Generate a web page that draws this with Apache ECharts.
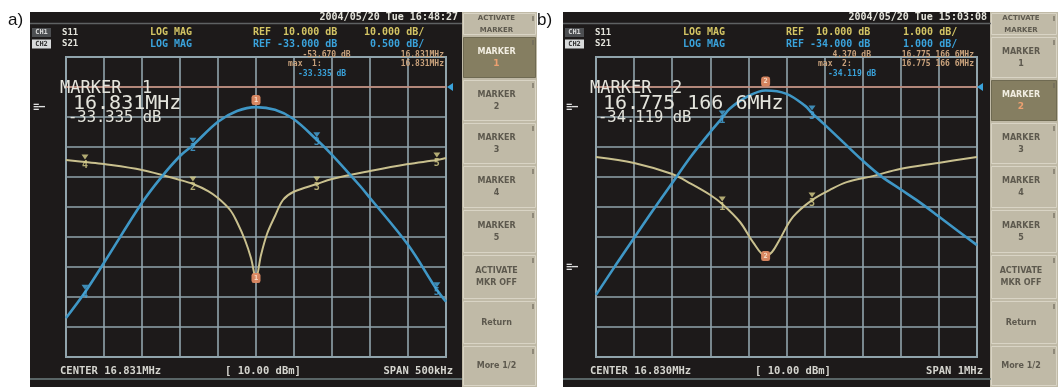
<!DOCTYPE html>
<html>
<head>
<meta charset="utf-8">
<script src="https://cdn.jsdelivr.net/npm/echarts@6.0.0/dist/echarts.min.js"></script>
<style>
  html, body { margin: 0; padding: 0; background: #ffffff; }
  #chart { width: 1058px; height: 387px; }
</style>
</head>
<body>
<div id="chart"></div>
<script>
// ---------- Panel a: S11 / S21, centre 16.831 MHz, span 500 kHz ----------
const centerA = 16.831;           // MHz
const spanA = 0.5;                // MHz
const refS21A = -33.0, divS21A = 0.5;   // dB, dB/div
const refS11A = 10.0,  divS11A = 10.0;

const s21FreqA = [16.581, 16.606, 16.631, 16.681, 16.706, 16.731, 16.748, 16.781, 16.806, 16.831,
                  16.856, 16.880, 16.911, 16.931, 16.968, 16.981, 17.031, 17.069, 17.081];
const s21A     = [-36.85, -36.42, -35.93, -34.93, -34.51, -34.15, -33.97, -33.58, -33.40, -33.335,
                  -33.38, -33.53, -33.88, -34.13, -34.65, -34.85, -35.63, -36.38, -36.58];

const s11FreqA = [16.581, 16.606, 16.631, 16.681, 16.731, 16.748, 16.768, 16.781, 16.797, 16.806,
                  16.8165, 16.8244, 16.831, 16.8376, 16.8455, 16.856, 16.8665, 16.880, 16.911, 16.931,
                  16.981, 17.031, 17.069, 17.081];
const s11A     = [-14.33, -15.0, -15.67, -17.67, -21.0, -22.33, -24.67, -27.0, -31.0, -35.0,
                  -41.0, -47.0, -53.67, -46.0, -39.0, -33.0, -27.67, -25.0, -22.33, -20.67,
                  -18.0, -15.67, -14.33, -13.67];

const markerNumA  = [1, 2, 3, 4, 5];
const markerFreqA = [16.831, 16.748, 16.911, 16.606, 17.069];
const markerS21A  = [-33.335, -33.97, -33.88, -36.42, -36.38];
const markerS11A  = [-53.67, -22.33, -22.33, -15.0, -14.33];
const activeA = 1;

// ---------- Panel b: S11 / S21, centre 16.830 MHz, span 1 MHz ----------
const centerB = 16.830;
const spanB = 1.0;
const refS21B = -34.0, divS21B = 1.0;
const refS11B = 10.0,  divS11B = 1.0;

const s21FreqB = [16.330, 16.380, 16.430, 16.480, 16.530, 16.580, 16.630, 16.6613, 16.680, 16.730,
                  16.7751666, 16.830, 16.879, 16.897, 16.928, 16.978, 17.028, 17.078, 17.128, 17.178,
                  17.228, 17.280, 17.330];
const s21B     = [-40.93, -39.97, -39.03, -38.10, -37.20, -36.30, -35.50, -35.03, -34.73, -34.30,
                  -34.119, -34.23, -34.63, -34.87, -35.23, -35.83, -36.43, -36.97, -37.40, -37.83,
                  -38.30, -38.80, -39.27];

const s11FreqB = [16.330, 16.430, 16.530, 16.580, 16.630, 16.6613, 16.708, 16.742, 16.7751666, 16.792,
                  16.810, 16.847, 16.897, 16.944, 16.988, 17.056, 17.128, 17.228, 17.330];
const s11B     = [7.67, 7.47, 7.10, 6.77, 6.40, 6.10, 5.50, 4.83, 4.37, 4.50,
                  4.87, 5.67, 6.23, 6.57, 6.83, 7.03, 7.27, 7.47, 7.67];

const markerNumB  = [2, 1, 3];
const markerFreqB = [16.7751666, 16.6613, 16.897];
const markerS21B  = [-34.119, -35.03, -34.87];
const markerS11B  = [4.37, 6.10, 6.23];
const activeB = 2;

// ---------- colours & fonts ----------
const C_SCREEN = '#1d1a1a', C_GRID = '#91a4ac', C_BLUE = '#3f97c6', C_YEL = '#c9c08e';
const C_MK = '#df8a63', C_TAN = '#c9a27c', C_HBLUE = '#3aa3dc', C_HYEL = '#d3c464', C_WHITE = '#e4e4dc';
const C_PANEL = '#c0baa7', C_PANEL_HI = '#857e61', C_BTN_TXT = '#5d594e';
const MONO = '"DejaVu Sans Mono", monospace';
const SANS = '"DejaVu Sans", sans-serif';

function toKHz(freqs, centre) { return freqs.map(f => (f - centre) * 1000); }
function pairs(freqs, vals, centre) { const k = toKHz(freqs, centre); return k.map((x, i) => [x, vals[i]]); }
function markerData(freqs, vals, nums, centre, active, wantActive) {
  const k = toKHz(freqs, centre);
  return k.map((x, i) => [x, vals[i], nums[i]]).filter(d => (d[2] === active) === wantActive);
}
function fmtFreqLong(f) {            // 16.7751666 -> "16.775 166 6"
  const s = f.toFixed(7);
  return s.slice(0, 6) + ' ' + s.slice(6, 9) + ' ' + s.slice(9);
}
function fmtDb(v) { return v.toFixed(3) + ' dB'; }

function txt(x, y, s, color, size, opt) {
  opt = opt || {};
  return {
    type: 'text', x: x, y: y, z: 100, silent: true,
    style: {
      text: s, fill: color,
      font: (opt.weight || 'bold') + ' ' + size + 'px ' + (opt.family || MONO),
      align: opt.align || 'left', verticalAlign: opt.valign || 'middle',
      lineHeight: opt.lineHeight || size + 2
    }
  };
}
function rect(x, y, w, h, fill, z, stroke) {
  return { type: 'rect', z: z, silent: true, shape: { x: x, y: y, width: w, height: h },
           style: { fill: fill, stroke: stroke || null, lineWidth: stroke ? 1 : 0 } };
}
function hline(x1, x2, y, color, w) {
  return { type: 'line', z: -50, silent: true, shape: { x1: x1, y1: y, x2: x2, y2: y },
           style: { stroke: color, lineWidth: w } };
}

const btnEdges = [12, 36, 79, 122, 165, 209, 254, 300, 345, 387];
const btnLabels = [['ACTIVATE', 'MARKER'], ['MARKER', '1'], ['MARKER', '2'], ['MARKER', '3'], ['MARKER', '4'],
                   ['MARKER', '5'], ['ACTIVATE', 'MKR OFF'], ['Return'], ['More 1/2']];

function sidePanel(x0, w, activeIdx) {
  const els = [rect(x0, 12, w, 375, C_PANEL, -100)];
  for (let i = 0; i < btnLabels.length; i++) {
    const y0 = btnEdges[i], y1 = btnEdges[i + 1];
    const hi = (i === activeIdx);
    els.push(rect(x0 + 1.5, y0 + 1.5, w - 3, y1 - y0 - 3, hi ? C_PANEL_HI : C_PANEL, -90, hi ? '#6f6a52' : '#d9d4c5'));
    const lab = btnLabels[i];
    const cx = x0 + w / 2 - 3, cy = (y0 + y1) / 2;
    const size = i === 0 ? 7 : 8;
    if (hi) {
      els.push({ type: 'text', x: cx, y: cy, z: 100, silent: true,
        style: { text: '{a|' + lab[0] + '}\n{b|' + lab[1] + '}', align: 'center', verticalAlign: 'middle',
          rich: { a: { fill: '#f2eee2', font: 'bold 8px ' + SANS, lineHeight: 12, align: 'center' },
                  b: { fill: '#eca070', font: 'bold 9px ' + SANS, lineHeight: 12, align: 'center' } } } });
    } else {
      els.push(txt(cx, cy, lab.join('\n'), C_BTN_TXT, size, { align: 'center', family: SANS, lineHeight: 12 }));
    }
    // small notch at the right edge of each key
    els.push({ type: 'line', z: -80, silent: true, shape: { x1: x0 + w - 4, y1: y0 + 4, x2: x0 + w - 4, y2: y0 + 9 },
               style: { stroke: '#6d685a', lineWidth: 1.2 } });
  }
  return els;
}

function screen(sx, sw, gx, info) {
  const els = [];
  els.push(rect(sx, 12, sw, 375, C_SCREEN, -100));
  els.push(hline(sx, sx + sw, 23.5, '#5f6263', 1.5));
  els.push(hline(sx, sx + sw, 379, '#6e7f80', 1.5));
  // date / time
  els.push(txt(sx + sw - 4, 17.5, info.date, C_WHITE, 10, { align: 'right' }));
  // channel boxes
  els.push(rect(sx + 2, 28, 19, 9, '#4d4f52', -40));
  els.push(txt(sx + 11.5, 32.5, 'CH1', '#d8d8d8', 7, { align: 'center' }));
  els.push(rect(sx + 2, 39.5, 19, 9, '#d8dadb', -40));
  els.push(txt(sx + 11.5, 44, 'CH2', '#333333', 7, { align: 'center' }));
  els.push(txt(sx + 32, 32.5, 'S11', C_WHITE, 9));
  els.push(txt(sx + 32, 44, 'S21', C_WHITE, 9));
  els.push(txt(sx + 120, 32.5, 'LOG MAG', C_HYEL, 10));
  els.push(txt(sx + 120, 44, 'LOG MAG', C_HBLUE, 10));
  els.push(txt(sx + 223, 32.5, info.ref11, C_HYEL, 10));
  els.push(txt(sx + 223, 44, info.ref21, C_HBLUE, 10));
  els.push(txt(sx + 334, 32.5, info.div11, C_HYEL, 10));
  els.push(txt(sx + 334, 44, info.div21, C_HBLUE, 10));
  // marker table (upper right of the graticule)
  els.push(txt(gx + 222, 54.5, info.tab1a, C_TAN, 8));
  els.push(txt(gx + 378, 54.5, info.tab1b, C_TAN, 8, { align: 'right' }));
  els.push(txt(gx + 222, 64, info.tab2a, C_TAN, 8));
  els.push(txt(gx + 378, 64, info.tab2b, C_TAN, 8, { align: 'right' }));
  els.push(txt(gx + 232, 73.5, info.tab3, C_HBLUE, 8));
  // active marker readout
  els.push(txt(gx - 6, 89, info.mk1, C_WHITE, 17, { weight: 'normal' }));
  els.push(txt(gx + 7, 104, info.mk2, C_WHITE, 20, { weight: 'normal' }));
  els.push(txt(gx + 2, 118, info.mk3, C_WHITE, 15.5, { weight: 'normal' }));
  // reference position indicators at the left edge
  info.refMarks.forEach(y => els.push(txt(sx + 3, y, '\u2261\u2012', '#e0e0e0', 10)));
  // S21 reference indicator on the right edge
  els.push({ type: 'polygon', z: 100, silent: true,
             shape: { points: [[gx + 381, 87], [gx + 387, 83], [gx + 387, 91]] }, style: { fill: C_HBLUE } });
  // stimulus footer
  els.push(txt(gx - 6, 371, info.centre, '#d5d5cf', 10.5));
  els.push(txt(gx + 159, 371, '[ 10.00 dBm]', '#d5d5cf', 10.5));
  els.push(txt(gx + 387, 371, info.span, '#d5d5cf', 10.5, { align: 'right' }));
  return els;
}

const infoA = {
  date: '2004/05/20 Tue 16:48:27',
  ref11: 'REF  ' + refS11A.toFixed(3) + ' dB', div11: divS11A.toFixed(3) + ' dB/',
  ref21: 'REF ' + refS21A.toFixed(3) + ' dB', div21: ' ' + divS21A.toFixed(3) + ' dB/',
  tab1a: '   ' + fmtDb(markerS11A[0]), tab1b: markerFreqA[0].toFixed(3) + 'MHz',
  tab2a: 'max  1:', tab2b: markerFreqA[0].toFixed(3) + 'MHz',
  tab3: fmtDb(markerS21A[0]),
  mk1: 'MARKER  ' + activeA, mk2: markerFreqA[0].toFixed(3) + 'MHz', mk3: fmtDb(markerS21A[0]),
  refMarks: [107],
  centre: 'CENTER ' + centerA.toFixed(3) + 'MHz', span: 'SPAN ' + (spanA * 1000).toFixed(0) + 'kHz'
};
const infoB = {
  date: '2004/05/20 Tue 15:03:08',
  ref11: 'REF  ' + refS11B.toFixed(3) + ' dB', div11: ' ' + divS11B.toFixed(3) + ' dB/',
  ref21: 'REF ' + refS21B.toFixed(3) + ' dB', div21: ' ' + divS21B.toFixed(3) + ' dB/',
  tab1a: '   ' + fmtDb(markerS11B[0]), tab1b: fmtFreqLong(markerFreqB[0]) + 'MHz',
  tab2a: 'max  2:', tab2b: fmtFreqLong(markerFreqB[0]) + 'MHz',
  tab3: fmtDb(markerS21B[0]),
  mk1: 'MARKER  ' + activeB, mk2: fmtFreqLong(markerFreqB[0]) + 'MHz', mk3: fmtDb(markerS21B[0]),
  refMarks: [107, 267],
  centre: 'CENTER ' + centerB.toFixed(3) + 'MHz', span: 'SPAN ' + spanB.toFixed(0) + 'MHz'
};

const graphics = [].concat(
  screen(30, 432, 66, infoA),
  sidePanel(462, 75, 1),
  screen(563, 428, 596, infoB),
  sidePanel(990, 68, 2),
  [txt(8, 20, 'a)', '#111111', 17, { weight: 'normal', family: '"Liberation Sans", Arial, sans-serif' }),
   txt(537, 20, 'b)', '#111111', 17, { weight: 'normal', family: '"Liberation Sans", Arial, sans-serif' })]
);

const hidden = { axisLabel: { show: false }, axisTick: { show: false }, axisLine: { show: false } };
const split = { show: true, lineStyle: { color: C_GRID, width: 1.6 } };

function traceSeries(x, y, data, color, width) {
  return { type: 'line', xAxisIndex: x, yAxisIndex: y, data: data, showSymbol: false, smooth: 0.35,
           lineStyle: { color: color, width: width }, z: 3, silent: true };
}
function refLine(x, y, value) {
  return { type: 'line', xAxisIndex: x, yAxisIndex: y, data: [], silent: true,
           markLine: { silent: true, symbol: 'none', label: { show: false },
                       lineStyle: { color: '#c98a76', width: 1.6, type: 'solid' }, data: [{ yAxis: value }] } };
}
function otherMarkers(x, y, data, color) {
  return { type: 'scatter', xAxisIndex: x, yAxisIndex: y, data: data, z: 5, silent: true,
           symbol: 'triangle', symbolRotate: 180, symbolSize: [7, 5], symbolOffset: [0, -5],
           itemStyle: { color: color },
           label: { show: true, position: 'inside', offset: [0, 8], color: color,
                    fontFamily: MONO, fontWeight: 'bold', fontSize: 10, formatter: p => String(p.data[2]) } };
}
function activeMarker(x, y, data, dy) {
  return { type: 'scatter', xAxisIndex: x, yAxisIndex: y, data: data, z: 6, silent: true,
           symbol: 'roundRect', symbolSize: [9, 10], symbolOffset: [0, dy],
           itemStyle: { color: C_MK, opacity: 0.95 },
           label: { show: true, position: 'inside', color: '#f7dcc8', fontSize: 7, fontWeight: 'bold',
                    fontFamily: MONO, formatter: p => String(p.data[2]) } };
}

const option = {
  animation: false,
  backgroundColor: '#ffffff',
  graphic: graphics,
  grid: [
    { left: 66, top: 57, width: 380, height: 300, show: true, borderColor: C_GRID, borderWidth: 2, backgroundColor: 'transparent' },
    { left: 596, top: 57, width: 381, height: 300, show: true, borderColor: C_GRID, borderWidth: 2, backgroundColor: 'transparent' }
  ],
  xAxis: [
    Object.assign({ gridIndex: 0, type: 'value', min: -spanA * 500, max: spanA * 500, interval: spanA * 100, splitLine: split }, hidden),
    Object.assign({ gridIndex: 1, type: 'value', min: -spanB * 500, max: spanB * 500, interval: spanB * 100, splitLine: split }, hidden)
  ],
  yAxis: [
    Object.assign({ gridIndex: 0, type: 'value', min: refS21A - 9 * divS21A, max: refS21A + divS21A, interval: divS21A, splitLine: split }, hidden),
    { gridIndex: 0, type: 'value', show: false, min: refS11A - 9 * divS11A, max: refS11A + divS11A, splitLine: { show: false } },
    Object.assign({ gridIndex: 1, type: 'value', min: refS21B - 9 * divS21B, max: refS21B + divS21B, interval: divS21B, splitLine: split }, hidden),
    { gridIndex: 1, type: 'value', show: false, min: refS11B - 9 * divS11B, max: refS11B + divS11B, splitLine: { show: false } }
  ],
  series: [
    refLine(0, 0, refS21A),
    refLine(1, 2, refS21B),
    traceSeries(0, 1, pairs(s11FreqA, s11A, centerA), C_YEL, 2),
    traceSeries(0, 0, pairs(s21FreqA, s21A, centerA), C_BLUE, 2.6),
    traceSeries(1, 3, pairs(s11FreqB, s11B, centerB), C_YEL, 2),
    traceSeries(1, 2, pairs(s21FreqB, s21B, centerB), C_BLUE, 2.6),
    otherMarkers(0, 1, markerData(markerFreqA, markerS11A, markerNumA, centerA, activeA, false), '#d8d08a'),
    otherMarkers(0, 0, markerData(markerFreqA, markerS21A, markerNumA, centerA, activeA, false), '#47a8dc'),
    otherMarkers(1, 3, markerData(markerFreqB, markerS11B, markerNumB, centerB, activeB, false), '#d8d08a'),
    otherMarkers(1, 2, markerData(markerFreqB, markerS21B, markerNumB, centerB, activeB, false), '#47a8dc'),
    activeMarker(0, 1, markerData(markerFreqA, markerS11A, markerNumA, centerA, activeA, true), 0),
    activeMarker(0, 0, markerData(markerFreqA, markerS21A, markerNumA, centerA, activeA, true), -7),
    activeMarker(1, 3, markerData(markerFreqB, markerS11B, markerNumB, centerB, activeB, true), 0),
    activeMarker(1, 2, markerData(markerFreqB, markerS21B, markerNumB, centerB, activeB, true), -9)
  ]
};

const chart = echarts.init(document.getElementById('chart'), null, { renderer: 'canvas' });
chart.setOption(option);
</script>
</body>
</html>
